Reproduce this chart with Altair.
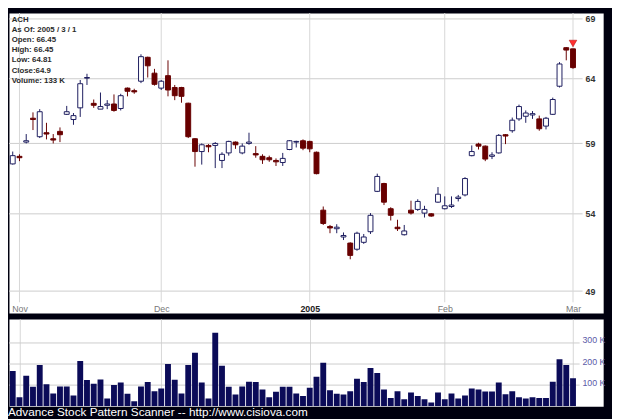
import altair as alt
import pandas as pd

# ---------------- data ----------------
ticker = "ACH"
holidays = ["2004-11-25", "2004-12-24", "2005-01-17", "2005-02-21"]
days = [d for d in pd.bdate_range("2004-10-29", "2005-03-01")
        if d.strftime("%Y-%m-%d") not in holidays]

opens = [57.5, 58.05, 59.1, 60.9, 59.5, 59.8, 59.35, 59.9, 61.2, 60.8,
         61.7, 64.05, 62.05, 61.6, 61.9, 62.0, 61.65, 63.25, 63.05, 63.8,
         65.75, 64.45, 63.25, 64.25, 63.3, 63.3, 62.06, 59.35, 58.4, 58.85,
         58.85, 57.75, 58.3, 59.1, 58.3, 59.0, 58.25, 58.05, 57.95, 57.75,
         57.6, 58.55, 59.1, 59.2, 59.15, 58.35, 54.25, 53.15, 53.0, 52.45,
         52.05, 51.65, 52.1, 52.8, 55.55, 56.1, 54.35, 53.1, 52.6, 54.25,
         54.3, 54.05, 54.0, 54.8, 54.35, 54.5, 55.05, 55.3, 58.1, 58.95,
         58.8, 58.05, 58.3, 59.65, 59.95, 60.85, 61.05, 61.15, 60.85, 60.3,
         61.2, 63.4, 66.55, 66.45]
highs = [58.4, 58.2, 59.7, 61.35, 61.6, 60.55, 59.7, 60.2, 61.85, 61.3,
         63.9, 64.4, 62.35, 62.9, 62.3, 62.75, 62.8, 63.3, 63.2, 66.0,
         65.8, 64.8, 63.9, 65.5, 63.5, 63.35, 62.1, 59.4, 59.0, 58.95,
         59.1, 58.35, 59.2, 59.15, 59.0, 59.8, 58.8, 58.2, 58.1, 57.9,
         58.3, 59.25, 59.2, 59.3, 59.2, 58.4, 54.5, 53.25, 53.3, 52.75,
         52.1, 52.8, 52.65, 54.05, 56.8, 56.15, 54.45, 53.6, 53.25, 54.9,
         55.0, 54.55, 54.05, 55.85, 55.2, 55.2, 55.3, 56.55, 58.85, 59.05,
         58.85, 58.35, 59.7, 59.7, 60.95, 61.95, 61.5, 61.45, 61.1, 61.0,
         62.5, 65.35, 66.6, 66.45]
lows = [57.45, 57.7, 59.0, 60.0, 59.4, 59.3, 59.0, 59.1, 61.15, 60.4,
        61.0, 63.5, 61.7, 61.6, 61.6, 61.4, 61.5, 62.6, 62.8, 63.65,
        64.1, 63.45, 63.1, 62.6, 62.3, 62.1, 59.4, 57.3, 57.45, 58.35,
        57.2, 57.2, 58.1, 58.6, 58.2, 58.9, 57.95, 57.5, 57.65, 57.35,
        57.35, 58.5, 58.7, 58.5, 58.35, 56.75, 53.25, 52.7, 52.7, 52.25,
        51.0, 51.55, 52.0, 52.65, 55.5, 54.6, 53.55, 52.85, 52.55, 53.95,
        54.2, 53.75, 53.8, 54.75, 54.3, 54.4, 54.85, 55.2, 58.05, 58.55,
        57.7, 57.85, 58.25, 58.95, 59.8, 60.7, 60.55, 60.85, 59.95, 60.05,
        61.15, 63.3, 65.5, 64.81]
closes = [58.1, 57.95, 59.2, 60.8, 61.4, 59.7, 59.25, 59.65, 61.4, 61.1,
          63.6, 64.1, 61.9, 61.8, 62.0, 61.5, 62.65, 63.0, 62.95, 65.8,
          65.05, 63.55, 63.8, 63.1, 62.65, 62.6, 59.5, 58.4, 58.9, 58.75,
          59.0, 58.2, 59.15, 58.9, 58.8, 59.1, 58.15, 57.8, 57.8, 57.65,
          57.9, 59.2, 59.15, 58.65, 58.6, 56.8, 53.35, 53.05, 53.1, 52.55,
          51.25, 52.7, 52.45, 53.9, 56.6, 54.8, 53.9, 53.0, 52.85, 54.05,
          54.85, 54.3, 53.85, 55.35, 54.55, 54.6, 55.15, 56.45, 58.4, 58.8,
          57.85, 58.15, 59.6, 59.55, 60.75, 61.8, 61.3, 61.25, 60.1, 60.9,
          62.35, 65.2, 66.35, 64.9]
volumes_k = [167, 42, 144, 92, 195, 104, 60, 93, 93, 51,
             214, 124, 107, 127, 36, 101, 112, 59, 23, 93,
             115, 71, 84, 200, 126, 60, 195, 254, 112, 37,
             349, 192, 92, 56, 93, 116, 115, 79, 42, 68,
             92, 92, 60, 48, 88, 140, 206, 76, 59, 56,
             71, 130, 115, 181, 157, 79, 39, 71, 33, 65,
             48, 33, 17, 65, 33, 60, 36, 51, 84, 79,
             70, 70, 112, 57, 71, 42, 36, 42, 39, 39,
             116, 223, 195, 133]
marker_price = [66.9]

month_labels = ["Nov", "Dec", "2005", "Feb", "Mar"]
price_ticks = [49, 54, 59, 64, 69]
vol_ticks = [100000, 200000, 300000]
footer = "Advance Stock Pattern Scanner -- http://www.cisiova.com"

# ---------------- frames ----------------
n = len(days)
month_idx = [i for i in range(1, n) if days[i].month != days[i - 1].month]
df = pd.DataFrame({
    "i": list(range(n)), "o": opens, "h": highs, "l": lows, "c": closes,
    "v": [x * 1000 for x in volumes_k],
    "dir": ["up" if c >= o else "down" for o, c in zip(opens, closes)],
})
last = n - 1
info = "\n".join([
    ticker,
    f"As Of: {days[last].year} / {days[last].month} / {days[last].day}",
    f"Open: {opens[last]}",
    f"High: {highs[last]}",
    f"Low: {lows[last]}",
    f"Close:{closes[last]}",
    f"Volume: {volumes_k[last]} K",
])

NAVY = "#1c1c5e"
RED = "#680000"
FONT = "Liberation Sans"

xscale = alt.Scale(domain=[0.1714, 86.743], nice=False, zero=False)
yscale = alt.Scale(type="log", domain=[47.666, 69.515], nice=False, zero=False)
vscale = alt.Scale(domain=[0, 413953], nice=False, zero=True)

year_i = month_idx[month_labels.index("2005")]
label_expr = " : ".join(
    f"datum.value == {i} ? '{t}'" for i, t in zip(month_idx, month_labels)) + " : ''"

xaxis_price = alt.Axis(
    orient="bottom", values=month_idx, labelExpr=label_expr, grid=False,
    ticks=False, domain=False, labelPadding=-2, labelBaseline="alphabetic",
    labelFontSize=9, labelFont=FONT, labelFlush=False, labelOverlap=False,
    labelColor={"expr": f"datum.value == {year_i} ? '#222222' : '#777777'"},
    labelFontWeight={"expr": f"datum.value == {year_i} ? 'bold' : 'normal'"},
    title=None)
yaxis_price = alt.Axis(
    orient="right", values=price_ticks, grid=False, ticks=False, domain=False,
    labelPadding=-18.5, labelAlign="left", labelBaseline="middle",
    labelFontSize=9, labelFontWeight="bold", labelColor="#333333",
    labelFont=FONT, labelFlush=False, labelOverlap=False, format="d", title=None)
xaxis_vol = alt.Axis(
    values=month_idx, grid=True, gridColor="#d6d6d6", labels=False,
    ticks=False, domain=False, title=None)
yaxis_vol = alt.Axis(
    orient="right", values=vol_ticks, grid=False, ticks=False, domain=False,
    labelExpr="format(datum.value / 1000, 'd') + ' K'", labelPadding=-21.7,
    labelAlign="left", labelBaseline="alphabetic", labelFontSize=9,
    labelColor="#5b5ba8", labelFont=FONT, labelFlush=False,
    labelOverlap=False, title=None)

X = alt.X("i:Q", scale=xscale, axis=xaxis_price)
stroke_enc = alt.Stroke("dir:N", scale=alt.Scale(domain=["up", "down"], range=[NAVY, RED]), legend=None)
fill_enc = alt.Fill("dir:N", scale=alt.Scale(domain=["up", "down"], range=["#ffffff", RED]), legend=None)

hgrid = alt.Chart(pd.DataFrame({"p": price_ticks})).mark_rule(
    color="#cccccc", strokeWidth=1).encode(
    y=alt.Y("p:Q", scale=yscale, axis=yaxis_price),
    x=alt.value(0), x2=alt.value(585))
vgrid = alt.Chart(pd.DataFrame({"i": month_idx})).mark_rule(
    color="#d6d6d6", strokeWidth=1).encode(
    x=X, y=alt.value(0), y2=alt.value(295))
wicks = alt.Chart(df).mark_rule(strokeWidth=1, clip=True).encode(
    x=X, y=alt.Y("l:Q", scale=yscale, axis=yaxis_price), y2="h:Q",
    stroke=stroke_enc)
bodies = alt.Chart(df).mark_bar(size=5, strokeWidth=1, clip=True).encode(
    x=X, y=alt.Y("o:Q", scale=yscale, axis=yaxis_price), y2="c:Q",
    fill=fill_enc, stroke=stroke_enc)
marker = alt.Chart(pd.DataFrame({"i": [last], "m": marker_price})).mark_point(
    shape="triangle-down", filled=True, size=60, fill="#ff3030",
    stroke="#b00000", strokeWidth=0.5, opacity=1).encode(
    x=X, y=alt.Y("m:Q", scale=yscale, axis=yaxis_price))
info_text = alt.Chart(pd.DataFrame({"t": [info]})).mark_text(
    align="left", baseline="alphabetic", lineBreak="\n", lineHeight=10.4,
    font=FONT, fontSize=8, fontWeight="bold", color="#2b2b2b").encode(
    text="t:N", x=alt.value(2.7), y=alt.value(8.7))

price = alt.layer(hgrid, vgrid, wicks, bodies, marker, info_text).properties(
    width=606, height=306,
    view=alt.ViewBackground(fill="#ffffff", stroke="transparent"))

vhgrid = alt.Chart(pd.DataFrame({"v": vol_ticks})).mark_rule(
    color="#cccccc", strokeWidth=1).encode(
    y=alt.Y("v:Q", scale=vscale, axis=yaxis_vol),
    x=alt.value(0), x2=alt.value(582))
vbars = alt.Chart(df).mark_bar(size=6, color="#0b0b58", clip=True).encode(
    x=alt.X("i:Q", scale=xscale, axis=xaxis_vol),
    y=alt.Y("v:Q", scale=vscale, axis=yaxis_vol))
vol = alt.layer(vhgrid, vbars).properties(
    width=606, height=89,
    view=alt.ViewBackground(fill="#ffffff", stroke="transparent"))

chart = alt.vconcat(price, vol, spacing=4).properties(
    background="#00000f",
    padding={"left": 0, "top": 0, "right": 6, "bottom": 0},
    title=alt.TitleParams(text=footer, orient="bottom", anchor="start",
                          color="#ffffff", fontSize=12, font=FONT,
                          fontWeight="normal", offset=0, baseline="top"),
)

chart.save("out.html", embed_options={"renderer": "svg", "actions": False})
